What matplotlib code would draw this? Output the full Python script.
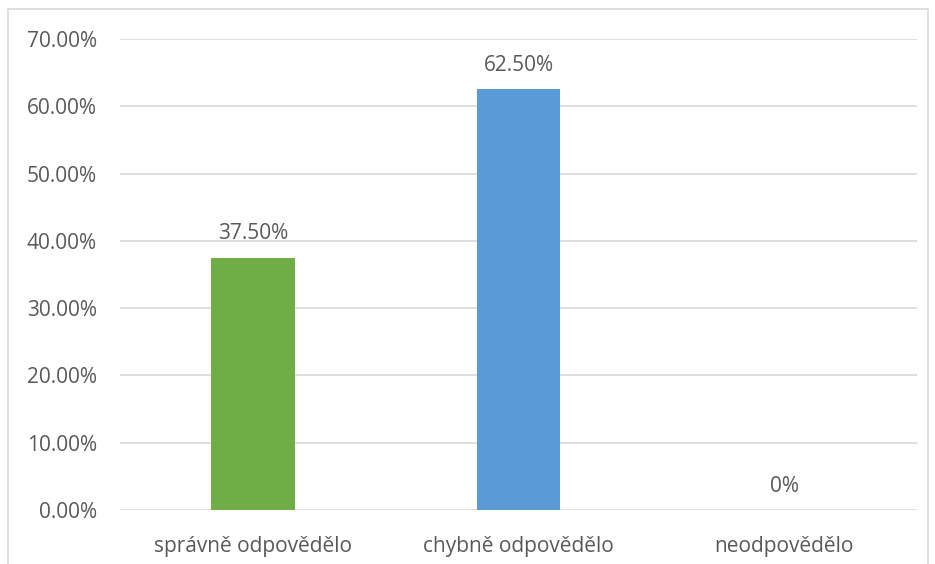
import matplotlib
matplotlib.use("Agg")
import matplotlib.pyplot as plt
from matplotlib.patches import Rectangle
from matplotlib.ticker import MultipleLocator, FuncFormatter

categories = ["správně odpovědělo", "chybně odpovědělo", "neodpovědělo"]
values = [37.5, 62.5, 0.0]
value_labels = ["37.50%", "62.50%", "0%"]
colors = ["#70AD47", "#5B9BD5", "#A5A5A5"]

plt.rcParams["font.family"] = ["Open Sans", "DejaVu Sans"]
text_color = "#595959"
grid_color = "#D9D9D9"
fs = 15

W, H = 935, 564
fig = plt.figure(figsize=(W / 100, H / 100), dpi=100)
fig.patch.set_facecolor("white")

# chart area border
fig.add_artist(Rectangle((8 / W, -0.01), (928 - 8) / W, 1.01 - 9 / H,
                         transform=fig.transFigure, fill=False,
                         edgecolor=grid_color, linewidth=1.2))

ax = fig.add_axes([120 / W, (H - 510) / H, (917 - 120) / W, (510 - 39) / H])
x = range(len(categories))
bars = ax.bar(x, values, width=0.316, color=colors, zorder=3)

ax.set_xlim(-0.5, len(categories) - 0.5)
ax.set_ylim(0, 70)
ax.yaxis.set_major_locator(MultipleLocator(10))
ax.yaxis.set_major_formatter(FuncFormatter(lambda v, p: f"{v:.2f}%"))
ax.grid(axis="y", color=grid_color, linewidth=1.2, zorder=0)
ax.set_axisbelow(True)
for s in ax.spines.values():
    s.set_visible(False)
ax.tick_params(axis="both", length=0, labelsize=fs, colors=text_color)
ax.tick_params(axis="y", pad=16.5)
ax.tick_params(axis="x", pad=18.5)
ax.set_xticks(list(x))
ax.set_xticklabels(categories)

for b, v, lab in zip(bars, values, value_labels):
    ax.annotate(lab, (b.get_x() + b.get_width() / 2, v),
                xytext=(0, 9.5), textcoords="offset points",
                ha="center", va="bottom", fontsize=fs, color=text_color)

fig.savefig("out.png", dpi=100)
